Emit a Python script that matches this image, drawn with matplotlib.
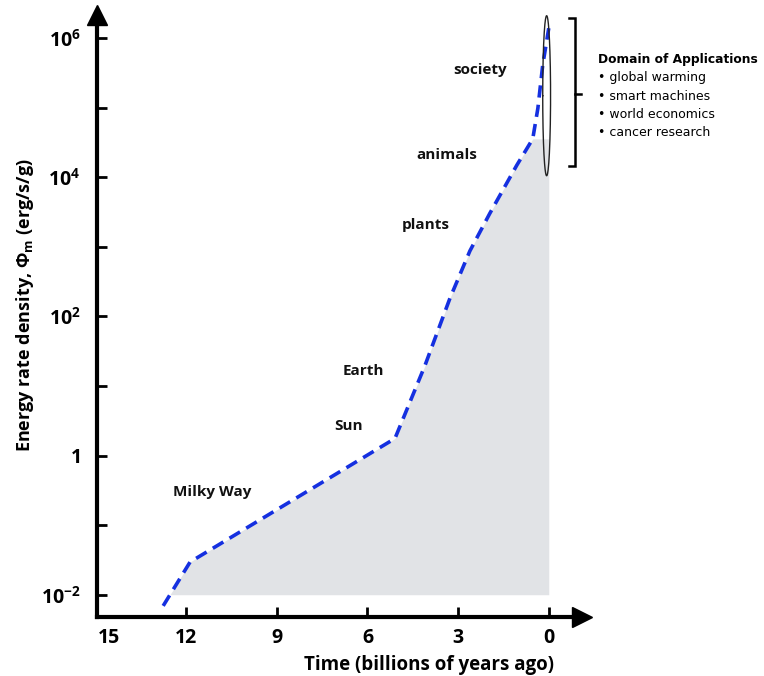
import numpy as np
import matplotlib
matplotlib.use("Agg")
import matplotlib.pyplot as plt

# ---- data ----
time_gyr = [12.76, 11.87, 5.09, 4.10, 3.27, 2.61, 1.95, 1.06, 0.53, 0.36, 0.20, 0.0]
log_phi = [-2.16, -1.53, 0.245, 1.29, 2.26, 2.94, 3.48, 4.17, 4.55, 4.99, 5.61, 6.14]
phi = [10 ** v for v in log_phi]

xtick_vals = [12, 9, 6, 3, 0]
xtick_labels = ["12", "9", "6", "3", "0"]
ytick_vals = [1e-2, 1, 1e2, 1e4, 1e6]
ytick_labels = [r"$\mathbf{10^{-2}}$", r"$\mathbf{1}$", r"$\mathbf{10^{2}}$",
                r"$\mathbf{10^{4}}$", r"$\mathbf{10^{6}}$"]
yminor_vals = [1e-1, 1e1, 1e3, 1e5]

labels = ["society", "animals", "plants", "Earth", "Sun", "Milky Way"]
label_x = [2.28, 3.37, 4.07, 6.12, 6.61, 11.14]
label_logy = [5.54, 4.32, 3.31, 1.22, 0.42, -0.52]

domain_title = "Domain of Applications"
domain_items = ["global warming", "smart machines", "world economics", "cancer research"]

plt.rcParams['font.family'] = ['Open Sans', 'DejaVu Sans']
plt.rcParams['mathtext.fontset'] = 'custom'
plt.rcParams['mathtext.bf'] = 'Open Sans:bold'
plt.rcParams['mathtext.rm'] = 'Open Sans'
plt.rcParams['mathtext.it'] = 'Open Sans:italic'

fig = plt.figure(figsize=(7.64, 6.76), dpi=100)
ax = fig.add_axes([97 / 764, 1 - 617 / 676, (582 - 97) / 764, (617 - 15) / 676])
ax.set_yscale('log')
ax.set_xlim(14.95, -1.1)
ax.set_ylim(10 ** -2.32, 10 ** 6.33)

# fill under the curve above 1e-2
xs = np.array(time_gyr)
ys = np.array(phi)
lx = np.log10(ys)
x0 = np.interp(-2.0, lx, xs)
fx = np.concatenate([[x0], xs[1:]])
fy = np.concatenate([[1e-2], np.minimum(ys[1:], 10 ** 4.55)])
ax.fill_between(fx, 1e-2, fy, color='#e1e3e6', lw=0, zorder=1)

ax.plot(time_gyr, phi, color='#1530e0', lw=2.6, dashes=(3.4, 2.0), zorder=3, clip_on=False)

# ellipse around present day
t = np.linspace(0, 2 * np.pi, 200)
ex = 0.07 + 0.13 * np.cos(t)
ey = 10 ** (5.17 + 1.15 * np.sin(t))
ax.plot(ex, ey, color='#222222', lw=1.0, zorder=4, clip_on=False)

# bracket
bx = -0.86
ax.plot([bx + 0.18, bx, bx, bx + 0.18], [10 ** 6.29, 10 ** 6.29, 10 ** 4.16, 10 ** 4.16],
        color='black', lw=1.8, clip_on=False, solid_joinstyle='miter')
ax.plot([bx, bx - 0.2], [10 ** 5.2, 10 ** 5.2], color='black', lw=1.8, clip_on=False)

for s, x, ly in zip(labels, label_x, label_logy):
    ax.text(x, 10 ** ly, s, ha='center', va='center', fontsize=11, fontweight='bold',
            color='#111111')

# axes styling
for sp in ['top', 'right']:
    ax.spines[sp].set_visible(False)
for sp in ['left', 'bottom']:
    ax.spines[sp].set_linewidth(3)
ax.plot(1, 0, '>', color='black', ms=14, transform=ax.transAxes, clip_on=False)
ax.plot(0, 1, '^', color='black', ms=14, transform=ax.transAxes, clip_on=False)

ax.set_xticks(xtick_vals)
ax.set_xticklabels(xtick_labels, fontsize=14, fontweight='bold')
ax.set_yticks(ytick_vals)
ax.set_yticklabels(ytick_labels, fontsize=14)
ax.set_yticks(yminor_vals, minor=True)
ax.yaxis.set_minor_formatter(matplotlib.ticker.NullFormatter())
ax.tick_params(axis='both', which='both', direction='in', length=7, width=2, colors='black')
ax.tick_params(axis='x', pad=8)
ax.tick_params(axis='y', pad=12)
ax.text(14.55, -0.0185, "15", transform=ax.get_xaxis_transform(), ha='center', va='top',
        fontsize=14, fontweight='bold')

ax.set_xlabel("Time (billions of years ago)", fontsize=13.5, fontweight='bold')
ax.xaxis.set_label_coords((554 - 97) / (582 - 97), -0.063)
ax.xaxis.label.set_horizontalalignment('right')
ax.set_ylabel(r"Energy rate density, $\mathbf{\Phi_m}$ (erg/s/g)", fontsize=13,
              fontweight='bold', va='center')
ax.yaxis.set_label_coords((25 - 97) / 485, 0.518)

fig.text(598 / 764, 1 - 60 / 676, domain_title, fontsize=8.8, fontweight='bold', va='center',
         family=['DejaVu Sans'])
for i, item in enumerate(domain_items):
    fig.text(598 / 764, 1 - (78 + 18.3 * i) / 676, "\u2022 " + item, fontsize=9, va='center',
             family=['DejaVu Sans'])

fig.savefig("out.png", dpi=100)
